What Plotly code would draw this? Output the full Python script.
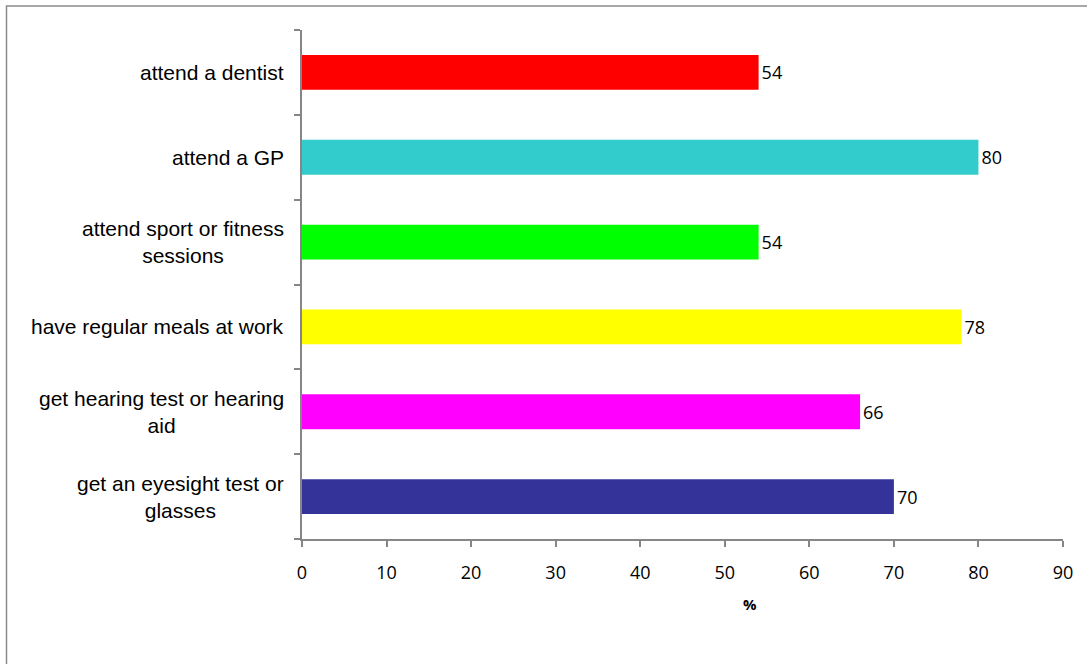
import plotly.graph_objects as go

# Survey results: share of respondents (%) for each health-related activity
categories = [
    "attend a dentist",
    "attend a GP",
    "attend sport or fitness sessions",
    "have regular meals at work",
    "get hearing test or hearing aid",
    "get an eyesight test or glasses",
]
label_lines = [
    "attend a dentist",
    "attend a GP",
    "attend sport or fitness<br>sessions",
    "have regular meals at work",
    "get hearing test or hearing<br>aid",
    "get an eyesight test or<br>glasses",
]
values = [54, 80, 54, 78, 66, 70]
colors = ["#FF0000", "#33CCCC", "#00FF00", "#FFFF00", "#FF00FF", "#333399"]
x_ticks = [0, 10, 20, 30, 40, 50, 60, 70, 80, 90]

axis_grey = "#868686"

fig = go.Figure(
    go.Bar(
        x=values,
        y=categories,
        orientation="h",
        marker=dict(color=colors, line=dict(width=0)),
        width=0.41,
        text=[str(v) for v in values],
        textposition="outside",
        textfont=dict(family="Open Sans, sans-serif", size=18, color="#000000"),
        cliponaxis=False,
        hoverinfo="x+y",
    )
)

# Category labels, centred line-by-line and right-anchored beside the axis
annotations = [
    dict(
        x=-0.021,
        xref="paper",
        y=cat,
        yref="y",
        text=lab,
        showarrow=False,
        xanchor="right",
        yanchor="middle",
        align="center",
        font=dict(family="Liberation Sans, Arial, sans-serif", size=21, color="#000000"),
    )
    for cat, lab in zip(categories, label_lines)
]
annotations.append(
    dict(
        x=53,
        xref="x",
        y=-0.128,
        yref="paper",
        text="<b>%</b>",
        showarrow=False,
        xanchor="center",
        yanchor="middle",
        font=dict(family="Open Sans, sans-serif", size=15, color="#000000"),
    )
)

fig.update_layout(
    width=1087,
    height=664,
    margin=dict(l=302, r=24, t=30, b=125),
    paper_bgcolor="#FFFFFF",
    plot_bgcolor="#FFFFFF",
    showlegend=False,
    bargap=0.59,
    annotations=annotations,
    xaxis=dict(
        range=[0, 90],
        tickvals=x_ticks,
        ticktext=[str(t) for t in x_ticks],
        showgrid=False,
        zeroline=False,
        showline=True,
        linecolor=axis_grey,
        linewidth=1.5,
        ticks="outside",
        ticklen=6,
        tickwidth=1.5,
        tickcolor=axis_grey,
        tickfont=dict(family="Open Sans, sans-serif", size=18, color="#000000"),
        ticklabelstandoff=11,
    ),
    yaxis=dict(
        categoryorder="array",
        categoryarray=categories[::-1],
        tickson="boundaries",
        showticklabels=False,
        showgrid=False,
        zeroline=False,
        showline=True,
        linecolor=axis_grey,
        linewidth=1.5,
        ticks="outside",
        ticklen=6,
        tickwidth=1.5,
        tickcolor=axis_grey,
    ),
    shapes=[
        # chart frame
        dict(
            type="rect",
            xref="paper",
            yref="paper",
            x0=-0.3883,
            x1=1.04,
            y0=-0.3,
            y1=1.0472,
            line=dict(color="#8C8C8C", width=1.5),
            fillcolor="rgba(0,0,0,0)",
            layer="below",
        )
    ],
)

fig.write_html("out.html")
